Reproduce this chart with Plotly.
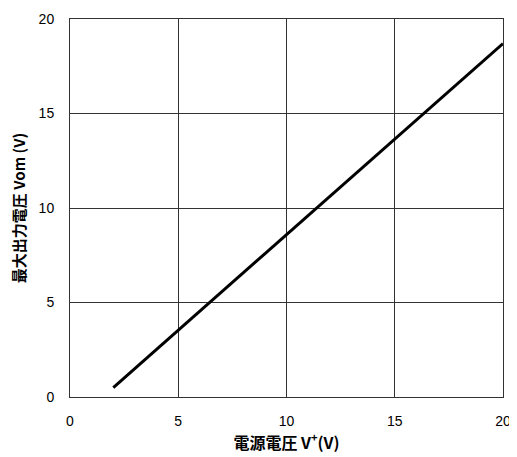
import plotly.graph_objects as go

supply_v = [2, 20]
vom = [0.5, 18.7]
tick_vals = [0, 5, 10, 15, 20]
tick_text = ["0", "5", "10", "15", "20"]

fig = go.Figure()
fig.add_trace(go.Scatter(x=supply_v, y=vom, mode="lines",
                         line=dict(color="black", width=3), showlegend=False))

font_tick = dict(family="Liberation Sans, Arial", size=14, color="black")
# page body has an 8px margin; figure is sized so the plot lands where the reference's does
fig.update_layout(
    width=509, height=449,
    margin=dict(l=62, r=14, t=11, b=60),
    paper_bgcolor="white", plot_bgcolor="white",
    xaxis=dict(range=[0, 20], tickvals=tick_vals, ticktext=tick_text, automargin=False,
               showgrid=True, gridcolor="#333", gridwidth=1,
               zeroline=False, showline=True, linecolor="#333", linewidth=1, mirror=True,
               ticks="", ticklabelstandoff=11, tickfont=font_tick,
               title=dict(text="<b>電源電圧 V<sup>+</sup>(V)</b>",
                          font=dict(family="Noto Sans CJK JP", size=16, color="black"),
                          standoff=2)),
    yaxis=dict(range=[0, 20], tickvals=tick_vals, ticktext=tick_text, automargin=False,
               showgrid=True, gridcolor="#333", gridwidth=1,
               zeroline=False, showline=True, linecolor="#333", linewidth=1, mirror=True,
               ticks="", ticklabelstandoff=12, tickfont=font_tick,
               title=dict(text="<b>最大出力電圧 Vom (V)</b>",
                          font=dict(family="Noto Sans CJK JP", size=15, color="black"),
                          standoff=20)),
)
fig.write_html("out.html")
